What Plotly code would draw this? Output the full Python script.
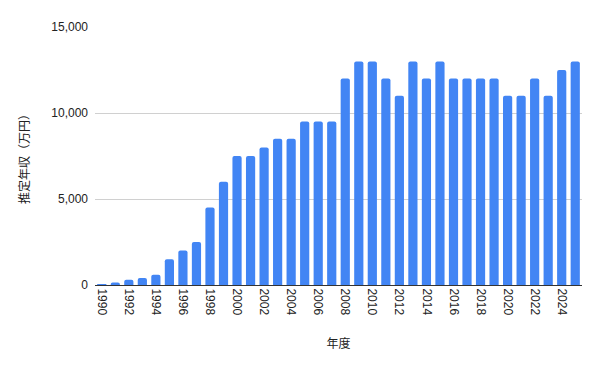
import plotly.graph_objects as go

years = [str(y) for y in range(1990, 2026)]
income = [50, 150, 300, 400, 600, 1500, 2000, 2500, 4500, 6000,
          7500, 7500, 8000, 8500, 8500, 9500, 9500, 9500, 12000, 13000,
          13000, 12000, 11000, 13000, 12000, 13000, 12000, 12000, 12000, 12000,
          11000, 11000, 12000, 11000, 12500, 13000]
tick_vals = [str(y) for y in range(1990, 2026, 2)]
y_ticks = [0, 5000, 10000, 15000]
y_tick_text = ["0", "5,000", "10,000", "15,000"]

fig = go.Figure(go.Bar(x=years, y=income, marker=dict(color="#4285f4", line=dict(width=0))))

fig.update_layout(
    width=600, height=370,
    margin=dict(l=87, r=26, t=17, b=93),
    plot_bgcolor="white", paper_bgcolor="white",
    bargap=0.32, barcornerradius=2,
    font=dict(family="Liberation Sans, Arial, sans-serif", size=11, color="#222"),
    showlegend=False,
)
fig.update_xaxes(
    type="category", tickmode="array", tickvals=tick_vals, ticktext=tick_vals,
    tickangle=90, showgrid=False, showline=True, linecolor="#333", linewidth=1,
    ticks="", tickfont=dict(size=12, color="#222"),
    title=dict(text="年度", font=dict(size=12, family="Noto Sans CJK JP", color="#222"), standoff=25),
)
fig.update_yaxes(
    range=[0, 15000], tickvals=y_ticks, ticktext=y_tick_text,
    showgrid=True, gridcolor="#d0d0d0", gridwidth=1, zeroline=False,
    ticks="", ticklabelstandoff=6, tickfont=dict(size=12, color="#222"),
    title=dict(text="推定年収（万円）", font=dict(size=12, family="Noto Sans CJK JP", color="#222"), standoff=19),
)

fig.write_html("out.html")
